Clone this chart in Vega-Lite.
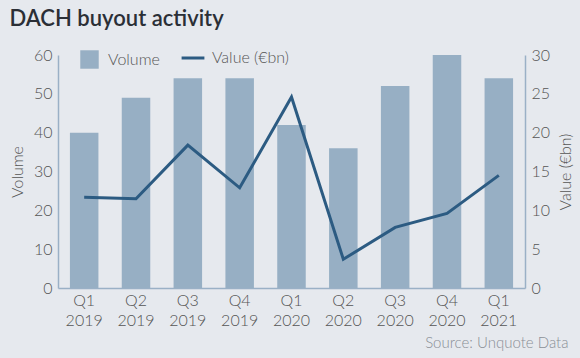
{
  "$schema": "https://vega.github.io/schema/vega-lite/v6.json",
  "width": 580,
  "height": 358,
  "autosize": {"type": "fit", "contains": "padding"},
  "padding": {"left": 9, "right": 6, "top": 8, "bottom": 8},
  "background": "#e6e9ee",
  "config": {
    "font": "Lato",
    "view": {"stroke": null},
    "axis": {
      "labelFont": "Lato", "labelFontSize": 16, "labelFontWeight": 300, "labelColor": "#555555",
      "titleFont": "Lato", "titleFontSize": 16, "titleColor": "#555555", "titleFontWeight": 300,
      "domainColor": "#9ab0c6", "domainWidth": 1.5, "ticks": false, "grid": false, "labelOverlap": false
    },
    "legend": {"labelFont": "Lato", "labelFontSize": 16, "labelFontWeight": 300, "labelColor": "#555555"}
  },
  "title": {
    "text": "DACH buyout activity",
    "anchor": "start",
    "frame": "bounds",
    "font": "Lato",
    "fontSize": 22,
    "fontWeight": 600,
    "color": "#2b2f36",
    "offset": 16
  },
  "data": {
    "values": [
      {"quarter": "Q1 2019", "volume": 40, "value": 11.7},
      {"quarter": "Q2 2019", "volume": 49, "value": 11.5},
      {"quarter": "Q3 2019", "volume": 54, "value": 18.4},
      {"quarter": "Q4 2019", "volume": 54, "value": 12.9},
      {"quarter": "Q1 2020", "volume": 42, "value": 24.6},
      {"quarter": "Q2 2020", "volume": 36, "value": 3.7},
      {"quarter": "Q3 2020", "volume": 52, "value": 7.8},
      {"quarter": "Q4 2020", "volume": 60, "value": 9.6},
      {"quarter": "Q1 2021", "volume": 54, "value": 14.5}
    ]
  },
  "encoding": {
    "x": {
      "field": "quarter", "type": "nominal", "sort": null,
      "scale": {"paddingInner": 0.45, "paddingOuter": 0.23},
      "axis": {
        "labelAngle": 0,
        "labelExpr": "split(datum.label, ' ')",
        "labelLineHeight": 20,
        "labelPadding": 4,
        "title": "Source: Unquote Data",
        "titleAnchor": "end",
        "titleAlign": "right",
        "titleX": 510,
        "titleFontSize": 15,
        "titleColor": "#8a8f96",
        "titlePadding": 7
      }
    }
  },
  "layer": [
    {
      "mark": {"type": "bar", "color": "#97afc4"},
      "encoding": {
        "y": {
          "field": "volume", "type": "quantitative",
          "scale": {"domain": [0, 60]},
          "axis": {"title": "Volume", "values": [0,10,20,30,40,50,60], "labelPadding": 6, "titlePadding": 8}
        },
        "fill": {
          "datum": "Volume",
          "scale": {"range": ["#97afc4"]},
          "legend": {
            "title": null, "orient": "none", "legendX": 22, "legendY": -5,
            "symbolType": "square", "symbolSize": 340, "symbolStrokeWidth": 0, "padding": 0, "labelOffset": 9
          }
        }
      }
    },
    {
      "mark": {"type": "line", "color": "#2c5b82", "strokeWidth": 3},
      "encoding": {
        "y": {
          "field": "value", "type": "quantitative",
          "scale": {"domain": [0, 30]},
          "axis": {"title": "Value (€bn)", "orient": "right", "titleAngle": 270, "titleBaseline": "top", "values": [0,5,10,15,20,25,30], "labelPadding": 6, "titlePadding": 8}
        },
        "stroke": {
          "datum": "Value (€bn)",
          "scale": {"range": ["#2c5b82"]},
          "legend": {
            "title": null, "orient": "none", "legendX": 122, "legendY": -10,
            "symbolType": "stroke", "symbolSize": 520, "symbolStrokeWidth": 3, "padding": 0, "labelOffset": 6
          }
        }
      }
    }
  ],
  "resolve": {"scale": {"y": "independent", "fill": "independent", "stroke": "independent"}}
}
